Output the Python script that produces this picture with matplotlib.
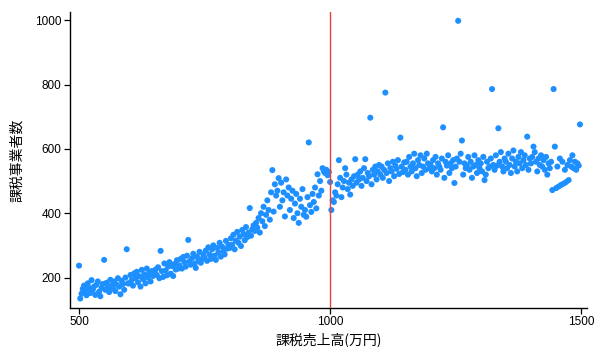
import numpy as np
import matplotlib
matplotlib.use("Agg")
import matplotlib.pyplot as plt

# x values: taxable sales (10k yen), step 2.5 from 500 to 1497.5
sales = np.arange(500, 1500, 2.5)

# y values: number of taxable businesses, read per 50-unit block (20 points each)
b500 = [237, 135, 150, 165, 175, 158, 145, 182, 168, 152, 192, 162, 172, 146, 178, 188, 156, 142, 168, 180]
b550 = [255, 162, 184, 170, 155, 193, 175, 166, 188, 158, 178, 198, 172, 148, 190, 180, 162, 200, 288, 182]
b600 = [182, 208, 192, 175, 213, 198, 218, 185, 204, 172, 224, 195, 210, 182, 228, 200, 214, 188, 220, 205]
b650 = [212, 225, 208, 232, 198, 283, 220, 202, 244, 222, 207, 234, 248, 212, 236, 205, 242, 225, 254, 228]
b700 = [238, 258, 228, 264, 248, 234, 268, 317, 250, 240, 260, 274, 243, 230, 265, 252, 280, 246, 258, 272]
b750 = [262, 284, 252, 294, 272, 258, 288, 300, 268, 255, 292, 278, 308, 265, 296, 282, 272, 314, 290, 302]
b800 = [292, 322, 302, 333, 288, 315, 342, 308, 327, 298, 348, 335, 316, 357, 326, 340, 416, 330, 350, 362]
b850 = [345, 370, 355, 385, 340, 400, 375, 420, 360, 395, 440, 410, 380, 465, 534, 405, 490, 455, 470, 509]
b900 = [420, 495, 440, 465, 390, 505, 455, 480, 410, 445, 470, 385, 430, 460, 400, 370, 445, 420, 475, 395]
b950 = [410, 389, 450, 620, 425, 404, 460, 435, 480, 415, 521, 455, 500, 470, 540, 530, 525, 535, 518, 528]
b1000 = [497, 410, 440, 435, 465, 455, 490, 565, 510, 450, 480, 500, 540, 520, 475, 495, 458, 505, 485, 515]
b1050 = [568, 495, 520, 505, 530, 485, 510, 540, 568, 500, 525, 515, 697, 490, 535, 520, 545, 505, 530, 550]
b1100 = [520, 545, 510, 535, 775, 525, 555, 500, 540, 530, 560, 515, 548, 538, 565, 522, 635, 545, 528, 558]
b1150 = [535, 560, 520, 575, 545, 530, 555, 585, 540, 515, 565, 550, 580, 525, 545, 570, 535, 585, 555, 540]
b1200 = [550, 530, 565, 540, 575, 520, 555, 545, 535, 570, 667, 510, 560, 548, 580, 525, 555, 540, 565, 494]
b1250 = [545, 570, 998, 560, 585, 626, 520, 555, 540, 548, 575, 535, 560, 510, 545, 580, 550, 525, 565, 540]
b1300 = [555, 530, 575, 503, 520, 560, 540, 545, 570, 786, 550, 535, 580, 548, 664, 560, 590, 545, 530, 570]
b1350 = [560, 540, 585, 550, 525, 570, 595, 545, 560, 530, 575, 555, 590, 540, 565, 580, 550, 638, 535, 570]
b1400 = [555, 575, 607, 590, 560, 530, 570, 550, 580, 545, 565, 535, 575, 520, 555, 540, 560, 472, 786, 607]
b1450 = [478, 545, 483, 570, 488, 560, 492, 535, 497, 550, 503, 565, 545, 580, 540, 560, 535, 555, 548, 676]

businesses = np.array(b500 + b550 + b600 + b650 + b700 + b750 + b800 + b850 + b900 + b950 +
                      b1000 + b1050 + b1100 + b1150 + b1200 + b1250 + b1300 + b1350 + b1400 + b1450)

threshold = 1000
x_ticks = [500, 1000, 1500]
y_ticks = [200, 400, 600, 800, 1000]

plt.rcParams['font.family'] = ['Liberation Sans', 'Noto Sans CJK JP', 'DejaVu Sans']

fig = plt.figure(figsize=(5.98, 3.47), dpi=100)
ax = fig.add_axes([0.117, 0.112, 0.865, 0.853])

ax.scatter(sales, businesses, s=19, color='#1E8FFF', edgecolors='none', zorder=2)
ax.axvline(threshold, color='#E8403F', lw=1.0, zorder=3)

ax.set_xlim(482, 1512)
ax.set_ylim(105, 1025)
ax.set_xticks(x_ticks)
ax.set_yticks(y_ticks)
ax.tick_params(axis='both', direction='out', length=4, width=0.9, labelsize=8.5, colors='black', pad=2)
for s in ['top', 'right']:
    ax.spines[s].set_visible(False)
for s in ['left', 'bottom']:
    ax.spines[s].set_linewidth(1.0)
    ax.spines[s].set_color('black')

ax.set_xlabel('課税売上高(万円)', fontsize=10, family=['Noto Sans CJK JP', 'DejaVu Sans'], labelpad=3)
ax.set_ylabel('課税事業者数', fontsize=10, family=['Noto Sans CJK JP', 'DejaVu Sans'], labelpad=8)

fig.savefig('out.png', dpi=100)
